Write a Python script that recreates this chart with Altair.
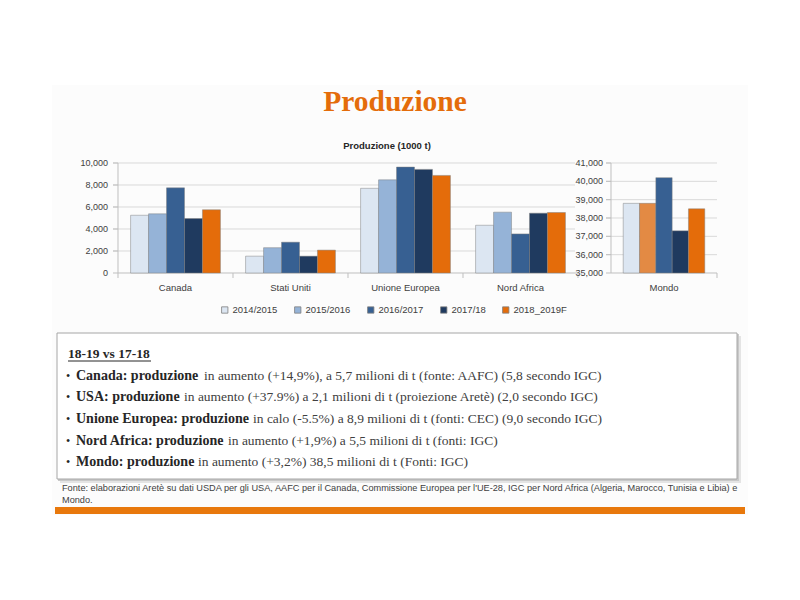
import altair as alt
import pandas as pd

# ---------------- data ----------------
categories = ["Canada", "Stati Uniti", "Unione Europea", "Nord Africa"]
series = ["2014/2015", "2015/2016", "2016/2017", "2017/18", "2018_2019F"]
v_2014_15 = [5250, 1530, 7700, 4340]
v_2015_16 = [5380, 2300, 8470, 5530]
v_2016_17 = [7740, 2800, 9630, 3550]
v_2017_18 = [4950, 1530, 9420, 5440]
v_2018_19 = [5750, 2080, 8870, 5500]
mondo_label = ["Mondo"]
mondo_vals = [38800, 38800, 40200, 37300, 38500]
left_ticks = [0, 2000, 4000, 6000, 8000, 10000]
right_ticks = [35000, 36000, 37000, 38000, 39000, 40000, 41000]

title_text = "Produzione"
chart_title = "Produzione (1000 t)"
box_header = "18-19 vs 17-18"
bullets_bold = [
    "Canada: produzione",
    "USA: produzione",
    "Unione Europea: produzione",
    "Nord Africa: produzione",
    "Mondo: produzione",
]
bullets_normal = [
    "in aumento (+14,9%), a 5,7 milioni di t (fonte: AAFC) (5,8 secondo IGC)",
    "in aumento (+37.9%) a 2,1 milioni di t (proiezione Aretè) (2,0 secondo IGC)",
    "in calo (-5.5%) a 8,9 milioni di t (fonti: CEC) (9,0 secondo IGC)",
    "in aumento (+1,9%) a 5,5 milioni di t (fonti: IGC)",
    "in aumento (+3,2%) 38,5 milioni di t (Fonti: IGC)",
]
footer_1 = ("Fonte: elaborazioni Aretè  su dati USDA per gli USA, AAFC per il Canada, "
            "Commissione Europea per l'UE-28, IGC per Nord Africa (Algeria, Marocco, Tunisia e Libia) e")
footer_2 = "Mondo."

colors = ["#DCE6F2", "#95B3D7", "#376092", "#1F3A5F", "#E46C0A"]
mondo_alt_color = "#E38A44"

rows = []
for s, vals in zip(series, [v_2014_15, v_2015_16, v_2016_17, v_2017_18, v_2018_19]):
    for c, v in zip(categories, vals):
        rows.append({"cat": c, "serie": s, "val": v})
df_left = pd.DataFrame(rows)
df_mondo = pd.DataFrame({"cat": mondo_label * len(series), "serie": series, "val": mondo_vals})
df_lt = pd.DataFrame({"t": left_ticks})
df_rt = pd.DataFrame({"t": right_ticks})
df_cat = pd.DataFrame({"cat": categories})
df_mcat = pd.DataFrame({"cat": mondo_label})
one = pd.DataFrame({"a": [0]})

SANS = "Liberation Sans"
SERIF = "Liberation Serif"
GRID = "#D9D9D9"
AX = "#BFBFBF"
LAB = "#404040"

# ---------------- left panel ----------------
xs_left = alt.Scale(domain=categories, range=[110, 570], paddingInner=0, paddingOuter=0)
ys_left = alt.Scale(domain=[0, 10000], range=[265, 155], nice=False, zero=False)
xoff = alt.Scale(domain=series, paddingInner=0, paddingOuter=0.7)
col_scale = alt.Scale(domain=series, range=colors)

grid_left = alt.Chart(df_lt).transform_filter("datum.t > 0").mark_rule(color=GRID, strokeWidth=1).encode(
    y=alt.Y("t:Q", scale=ys_left, axis=None), x=alt.value(105), x2=alt.value(567))
ylab_left = alt.Chart(df_lt).mark_text(align="right", baseline="middle", font=SANS, fontSize=9, color=LAB).encode(
    y=alt.Y("t:Q", scale=ys_left, axis=None), x=alt.value(100), text=alt.Text("t:Q", format=","))
tick_left = alt.Chart(df_lt).mark_rule(color=AX, strokeWidth=1).encode(
    y=alt.Y("t:Q", scale=ys_left, axis=None), x=alt.value(105), x2=alt.value(110))
yaxis_left = alt.Chart(one).mark_rule(color=AX, strokeWidth=1).encode(
    x=alt.value(110), y=alt.value(155), y2=alt.value(265))
xaxis_left = alt.Chart(one).mark_rule(color=AX, strokeWidth=1).encode(
    x=alt.value(110), x2=alt.value(570), y=alt.value(265))
band_ticks = alt.Chart(df_cat).mark_rule(color=AX, strokeWidth=1).encode(
    x=alt.X("cat:N", scale=xs_left, sort=categories, axis=None, bandPosition=0),
    y=alt.value(265), y2=alt.value(270))
end_tick = alt.Chart(one).mark_rule(color=AX, strokeWidth=1).encode(
    x=alt.value(570), y=alt.value(265), y2=alt.value(270))
catlab = alt.Chart(df_cat).mark_text(font=SANS, fontSize=9.5, color=LAB, baseline="middle").encode(
    x=alt.X("cat:N", scale=xs_left, sort=categories, axis=None), y=alt.value(280), text="cat:N")
bars_left = alt.Chart(df_left).mark_bar(stroke="#7F7F7F", strokeWidth=0.8, strokeOpacity=0.6).encode(
    x=alt.X("cat:N", scale=xs_left, sort=categories, axis=None),
    xOffset=alt.XOffset("serie:N", scale=xoff, sort=series),
    y=alt.Y("val:Q", scale=ys_left, axis=None),
    y2=alt.datum(0),
    color=alt.Color("serie:N", scale=col_scale, sort=series,
                    legend=alt.Legend(orient="none", legendX=212, legendY=297, direction="horizontal",
                                      title=None, symbolType="square", symbolSize=40,
                                      labelFont=SANS, labelFontSize=9.5, labelColor=LAB,
                                      columnPadding=14, labelOffset=3,
                                      symbolStrokeColor="#7F7F7F", symbolStrokeWidth=0.8)),
)
left_panel = alt.layer(grid_left, tick_left, yaxis_left, xaxis_left, band_ticks, end_tick,
                       bars_left, ylab_left, catlab)

# ---------------- Mondo panel ----------------
xs_m = alt.Scale(domain=mondo_label, range=[603, 709], paddingInner=0, paddingOuter=0)
ys_m = alt.Scale(domain=[35000, 41000], range=[265, 155], nice=False, zero=False)
xoff_m = alt.Scale(domain=series, paddingInner=0, paddingOuter=0.75)

grid_m = alt.Chart(df_rt).transform_filter("datum.t > 35000").mark_rule(color=GRID, strokeWidth=1).encode(
    y=alt.Y("t:Q", scale=ys_m, axis=None), x=alt.value(598), x2=alt.value(709))
tick_m = alt.Chart(df_rt).mark_rule(color=AX, strokeWidth=1).encode(
    y=alt.Y("t:Q", scale=ys_m, axis=None), x=alt.value(598), x2=alt.value(603))
ylab_m = alt.Chart(df_rt).mark_text(align="right", baseline="middle", font=SANS, fontSize=9, color=LAB).encode(
    y=alt.Y("t:Q", scale=ys_m, axis=None), x=alt.value(595), text=alt.Text("t:Q", format=","))
yaxis_m = alt.Chart(one).mark_rule(color=AX, strokeWidth=1).encode(
    x=alt.value(603), y=alt.value(155), y2=alt.value(265))
xaxis_m = alt.Chart(one).mark_rule(color=AX, strokeWidth=1).encode(
    x=alt.value(603), x2=alt.value(709), y=alt.value(265))
end_m = alt.Chart(one).mark_rule(color=AX, strokeWidth=1).encode(
    x=alt.value(709), y=alt.value(265), y2=alt.value(270))
catlab_m = alt.Chart(df_mcat).mark_text(font=SANS, fontSize=9.5, color=LAB, baseline="middle").encode(
    x=alt.X("cat:N", scale=xs_m, axis=None), y=alt.value(280), text="cat:N")
bars_m = alt.Chart(df_mondo).mark_bar(stroke="#7F7F7F", strokeWidth=0.8, strokeOpacity=0.6).encode(
    x=alt.X("cat:N", scale=xs_m, axis=None),
    xOffset=alt.XOffset("serie:N", scale=xoff_m, sort=series),
    y=alt.Y("val:Q", scale=ys_m, axis=None),
    y2=alt.datum(35000),
    color=alt.condition(alt.datum.serie == series[1], alt.value(mondo_alt_color),
                        alt.Color("serie:N", scale=col_scale, legend=None)),
)
mondo_panel = alt.layer(grid_m, tick_m, yaxis_m, xaxis_m, end_m, bars_m, ylab_m, catlab_m)

# ---------------- slide decorations & text ----------------
def txt(s, x, y, **kw):
    return alt.Chart(one).mark_text(**kw).encode(x=alt.value(x), y=alt.value(y), text=alt.value(s))

slide_bg = alt.Chart(one).mark_rect(color="#FCFCFC").encode(
    x=alt.value(44), x2=alt.value(740), y=alt.value(77), y2=alt.value(507))
shadow2 = alt.Chart(one).mark_rect(color="#E4E4E4").encode(
    x=alt.value(52), x2=alt.value(733), y=alt.value(328), y2=alt.value(475))
shadow1 = alt.Chart(one).mark_rect(color="#C9C9C9").encode(
    x=alt.value(50), x2=alt.value(731), y=alt.value(326), y2=alt.value(473))
box = alt.Chart(one).mark_rect(fill="white", stroke="#A6A6A6", strokeWidth=1).encode(
    x=alt.value(49), x2=alt.value(729), y=alt.value(325), y2=alt.value(471))
orange_bar = alt.Chart(one).mark_rect(color="#E8780C").encode(
    x=alt.value(47), x2=alt.value(737), y=alt.value(499), y2=alt.value(506))

layers = [slide_bg, shadow2, shadow1, box, orange_bar,
          txt(title_text, 387, 94, font=SERIF, fontSize=29.5, fontWeight="bold", color="#E46C0A",
              align="center", baseline="middle"),
          txt(chart_title, 379, 138, font=SANS, fontSize=9.5, fontWeight="bold", color="#262626",
              align="center", baseline="middle"),
          txt(box_header, 60, 346, font=SERIF, fontSize=13.5, fontWeight="bold", color="#262626",
              align="left", baseline="middle"),
          alt.Chart(one).mark_rule(color="#262626", strokeWidth=1).encode(
              x=alt.value(60), x2=alt.value(143), y=alt.value(353)),
          ]

line_y = [368, 389, 411, 433, 454]
normal_x = [196, 176, 245, 220, 190]
for yb, xn, b, n in zip(line_y, normal_x, bullets_bold, bullets_normal):
    layers.append(txt("•", 58, yb, font=SERIF, fontSize=12, color="#262626", align="left", baseline="middle"))
    layers.append(txt(b, 68, yb, font=SERIF, fontSize=14, fontWeight="bold", color="#262626",
                      align="left", baseline="middle"))
    layers.append(txt(n, xn, yb, font=SERIF, fontSize=13.5, color="#404040", align="left", baseline="middle"))

layers.append(txt(footer_1, 54, 480, font=SANS, fontSize=9.2, color="#404040", align="left", baseline="middle"))
layers.append(txt(footer_2, 54, 492, font=SANS, fontSize=9.2, color="#404040", align="left", baseline="middle"))

layers.extend([left_panel, mondo_panel])

chart = alt.layer(*layers).resolve_scale(
    x="independent", y="independent", xOffset="independent", color="independent"
).properties(
    width=784, height=584, autosize=alt.AutoSizeParams(type="none"), padding=0,
    background="white"
).configure_view(stroke=None)

chart.save("out.html", embed_options={"renderer": "svg", "actions": False})
